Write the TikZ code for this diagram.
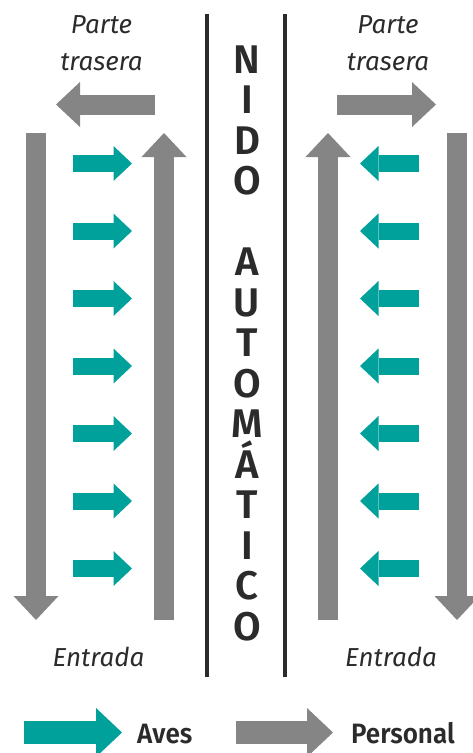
\documentclass[tikz,border=0pt]{standalone}
\usepackage{fontspec}
\setmainfont{Fira Sans}
\newfontfamily\seminegra{Fira Sans SemiBold}
\newfontfamily\seminegraestrecha[FakeStretch=0.93]{Fira Sans SemiBold}
\usetikzlibrary{arrows.meta}
\definecolor{turquesa}{HTML}{00A19B}
\definecolor{gris}{HTML}{858585}
\definecolor{tinta}{HTML}{2B2B2B}
\tikzset{
  pista/.style={draw=gris, line width=20pt, -{Triangle[width=45pt,length=24pt,line width=0pt]}},
  ave/.style={draw=turquesa, line width=17pt, -{Triangle[width=35pt,length=18.5pt,line width=0pt]}},
  clave/.style={line width=23pt, -{Triangle[width=49pt,length=26pt,line width=0pt]}},
  rotulo/.style={font=\fontsize{26}{37}\selectfont\itshape, text=tinta, align=center, inner sep=0pt},
  letra/.style={font=\fontsize{40}{40}\selectfont\seminegra, text=tinta, anchor=base, inner sep=0pt},
  leyenda/.style={font=\fontsize{28}{28}\selectfont\seminegraestrecha, text=tinta, anchor=base west, inner sep=0pt},
  muro/.style={draw=tinta, line width=4.5pt}
}
\begin{document}
\begin{tikzpicture}[x=1pt,y=-1pt]
\useasboundingbox (0,0) rectangle (472,753);

\draw[muro] (207,14) -- (207,677);
\draw[muro] (285,14) -- (285,677);

\foreach \letra [count=\k from 0] in {N,I,D,O,{},A,U,T,O,M,Á,T,I,C,O}
  \node[letra] (l\k) at (247,73+40.5*\k) {\letra};

\draw[pista] (155,104.5) -- (56,104.5);
\draw[pista] (36,133) -- (36,620);
\draw[pista] (164,620) -- (164,133);

\draw[pista] (337,104.5) -- (436,104.5);
\draw[pista] (328,620) -- (328,133);
\draw[pista] (457,133) -- (457,620);

\foreach \i in {0,...,6} {
  \draw[ave] (73,163.5+67.5*\i) -- (132,163.5+67.5*\i);
  \draw[ave] (419,163.5+67.5*\i) -- (360,163.5+67.5*\i);
}

\node[rotulo, anchor=north] (traseraI) at (101.5,15) {Parte\\trasera};
\node[rotulo, anchor=north] (traseraD) at (388,15) {Parte\\trasera};
\node[rotulo, anchor=base] (entradaI) at (98.5,666) {Entrada};
\node[rotulo, anchor=base] (entradaD) at (391,666) {Entrada};

\draw[clave, draw=turquesa] (24,732.5) -- (122,732.5);
\node[leyenda] (aves) at (137,743) {Aves};
\draw[clave, draw=gris] (236,732.5) -- (333,732.5);
\node[leyenda] (personal) at (351,743) {Personal};
\end{tikzpicture}
\end{document}
